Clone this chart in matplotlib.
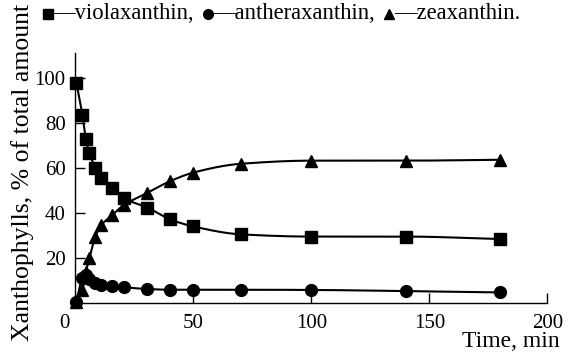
import numpy as np
import matplotlib
matplotlib.use("Agg")
import matplotlib.pyplot as plt
from matplotlib.lines import Line2D

plt.rcParams['font.family'] = ['Liberation Serif', 'DejaVu Serif']
plt.rcParams['mathtext.fontset'] = 'stix'

# Sampling times (min) and pigment content (% of total xanthophylls)
time_min = [0.5, 3, 4.5, 6, 8.5, 11, 15.5, 20.5, 30.5, 40, 50, 70, 100, 140, 180]
violaxanthin = [97.6, 83.6, 72.7, 66.5, 59.9, 55.4, 51.0, 46.5, 42.4, 37.2, 34.0, 30.5, 29.5, 29.5, 28.4]
antheraxanthin = [0.5, 11.0, 12.5, 10.5, 9.0, 8.0, 7.5, 7.0, 6.2, 5.9, 5.9, 5.9, 5.8, 5.3, 4.7]
zeaxanthin = [0.5, 5.8, 13.9, 19.9, 29.5, 34.5, 38.9, 43.4, 48.9, 54.0, 57.9, 61.8, 63.2, 63.2, 63.6]

pigment_names = ['violaxanthin,', 'antheraxanthin,', 'zeaxanthin.']
x_ticks = [50, 100, 150, 200]
y_ticks = [20, 40, 60, 80, 100]


def smooth_curve(x, y, n=600):
    """Monotone cubic Hermite (Fritsch-Carlson) curve through the points."""
    x = np.asarray(x, float)
    y = np.asarray(y, float)
    h = np.diff(x)
    d = np.diff(y) / h
    m = np.zeros_like(y)
    m[0], m[-1] = d[0], d[-1]
    for i in range(1, len(x) - 1):
        if d[i - 1] * d[i] <= 0:
            m[i] = 0.0
        else:
            w1 = 2 * h[i] + h[i - 1]
            w2 = h[i] + 2 * h[i - 1]
            m[i] = (w1 + w2) / (w1 / d[i - 1] + w2 / d[i])
    xs = np.linspace(x[0], x[-1], n)
    idx = np.clip(np.searchsorted(x, xs) - 1, 0, len(x) - 2)
    t = (xs - x[idx]) / h[idx]
    h00 = 2 * t**3 - 3 * t**2 + 1
    h10 = t**3 - 2 * t**2 + t
    h01 = -2 * t**3 + 3 * t**2
    h11 = t**3 - t**2
    ys = (h00 * y[idx] + h10 * h[idx] * m[idx]
          + h01 * y[idx + 1] + h11 * h[idx] * m[idx + 1])
    return xs, ys


W, H = 568, 360
fig = plt.figure(figsize=(W / 100, H / 100), dpi=100)
ax = fig.add_axes([0.1326, 0.1583, 0.8310, 0.6945])

markers = ['s', 'o', '^']
series = [violaxanthin, antheraxanthin, zeaxanthin]
sizes = [8.5, 8.5, 9]
for values, marker, ms in zip(series, markers, sizes):
    xs, ys = smooth_curve(time_min, values)
    ax.plot(xs, ys, color='black', lw=1.5, clip_on=False, zorder=2)
    ax.plot(time_min, values, linestyle='none', marker=marker, ms=ms,
            color='black', clip_on=False, zorder=3)

ax.set_xlim(0, 200)
ax.set_ylim(0, 111)
ax.set_xticks(x_ticks)
ax.set_yticks(y_ticks)
ax.spines['top'].set_visible(False)
ax.spines['right'].set_visible(False)
for s in ('left', 'bottom'):
    ax.spines[s].set_linewidth(1.0)
ax.tick_params(direction='in', length=7, width=1.0, labelsize=15, pad=7)
ax.tick_params(axis='x', pad=8)
for lab in ax.get_xticklabels() + ax.get_yticklabels():
    lab.set_fontfamily(['Liberation Serif', 'DejaVu Serif'])

# shared zero at the origin
ax.annotate('0', xy=(-4.5, 0), xycoords=('data', 'axes fraction'),
            xytext=(0, -8), textcoords='offset points',
            ha='center', va='top', fontsize=15)

fig.text(0.986, 0.022, 'Time, min', ha='right', va='bottom', fontsize=17)
fig.text(0.039, 0.52, 'Xanthophylls, % of total amount', rotation=90,
         ha='center', va='center', fontsize=18.5)

# key line above the plot: marker followed by "—name"
renderer = fig.canvas.get_renderer()
cursor = 43.0
y_key = 13.5
for marker, name, ms in zip(markers, pigment_names, [7, 7, 7.5]):
    fig.add_artist(Line2D([(cursor + 4.5) / W], [1 - y_key / H], marker=marker,
                          ms=ms, color='black', linestyle='none',
                          transform=fig.transFigure))
    cursor += 9.5
    t = fig.text(cursor / W, 1 - y_key / H, '\u2014' + name, ha='left',
                 va='center', fontsize=16.3)
    bb = t.get_window_extent(renderer=renderer)
    cursor = bb.x1 + 9

fig.savefig('out.png', dpi=100)
